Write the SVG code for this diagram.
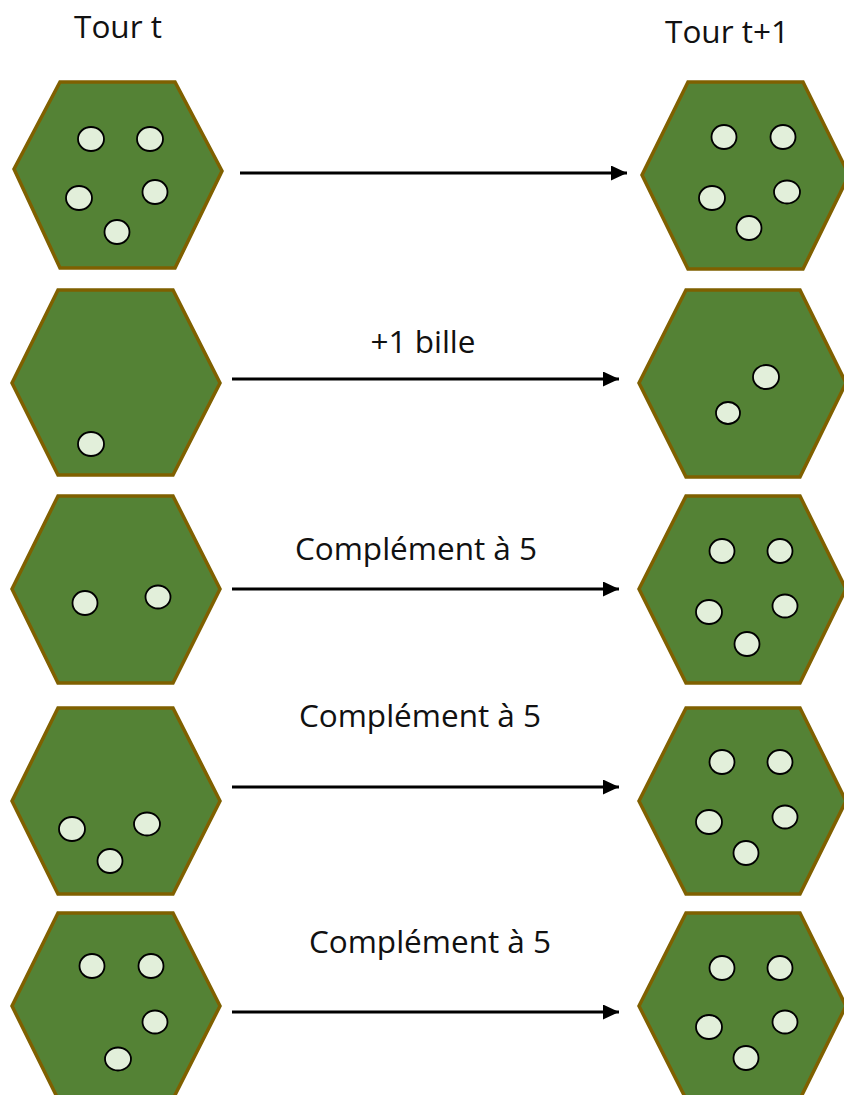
<svg xmlns="http://www.w3.org/2000/svg" width="844" height="1095" viewBox="0 0 844 1095">
<style>
.hex{fill:#548235;stroke:#7F6000;stroke-width:3.5;stroke-linejoin:miter}
.ball{fill:#E2EFDA;stroke:#000;stroke-width:1.8}
.lbl{font-family:"Open Sans","Liberation Sans",sans-serif;font-size:31.5px;fill:#111;text-anchor:middle}
.arr{stroke:#000;stroke-width:3;fill:none;marker-end:url(#ah)}
</style>
<defs>
<marker id="ah" markerUnits="userSpaceOnUse" markerWidth="17" markerHeight="15" refX="16" refY="7.5" orient="auto">
<path d="M0,0 L16,7.5 L0,15 Z" fill="#000"/>
</marker>
</defs>
<rect width="844" height="1095" fill="#fff"/>
<g id="titles">
<text class="lbl" x="118" y="38">Tour t</text>
<text class="lbl" x="727" y="43">Tour t+1</text>
</g>
<g id="row1-left">
<polygon class="hex" points="60,82 175,82 222,171 175,268 60,268 14,169"/>
<ellipse class="ball" cx="91" cy="139" rx="13" ry="12"/>
<ellipse class="ball" cx="150" cy="139" rx="13" ry="12"/>
<ellipse class="ball" cx="79" cy="198" rx="13" ry="12"/>
<ellipse class="ball" cx="155" cy="192" rx="12.5" ry="12"/>
<ellipse class="ball" cx="117" cy="232" rx="12.5" ry="12"/>
</g>
<g id="row1-right">
<polygon class="hex" points="688,82 803,82 849,175 803,269 688,269 642,175"/>
<ellipse class="ball" cx="724" cy="137" rx="12.5" ry="12"/>
<ellipse class="ball" cx="783" cy="137" rx="12.5" ry="12"/>
<ellipse class="ball" cx="712" cy="198" rx="13" ry="12"/>
<ellipse class="ball" cx="787" cy="192" rx="13" ry="11.5"/>
<ellipse class="ball" cx="749" cy="228" rx="12.5" ry="12"/>
</g>
<g id="row2-left">
<polygon class="hex" points="58,290 173,290 220,383 173,475 58,475 12,383"/>
<ellipse class="ball" cx="91" cy="444" rx="13" ry="12"/>
</g>
<g id="row2-right">
<polygon class="hex" points="686,290 800,290 846,383 800,477 686,477 639,383"/>
<ellipse class="ball" cx="766" cy="377" rx="13" ry="12"/>
<ellipse class="ball" cx="728" cy="413" rx="12" ry="11"/>
</g>
<g id="row3-left">
<polygon class="hex" points="58,496 173,496 220,589 173,683 58,683 12,589"/>
<ellipse class="ball" cx="85" cy="603" rx="12.5" ry="12"/>
<ellipse class="ball" cx="158" cy="597" rx="12.5" ry="11.5"/>
</g>
<g id="row3-right">
<polygon class="hex" points="686,496 800,496 846,589 800,683 686,683 639,589"/>
<ellipse class="ball" cx="722" cy="551" rx="12.5" ry="12"/>
<ellipse class="ball" cx="780" cy="551" rx="12.5" ry="12"/>
<ellipse class="ball" cx="709" cy="612" rx="13" ry="12"/>
<ellipse class="ball" cx="785" cy="606" rx="12.5" ry="11.5"/>
<ellipse class="ball" cx="747" cy="644" rx="12.5" ry="12"/>
</g>
<g id="row4-left">
<polygon class="hex" points="58,708 173,708 220,801 173,894 58,894 12,801"/>
<ellipse class="ball" cx="72" cy="829" rx="13" ry="12"/>
<ellipse class="ball" cx="147" cy="824" rx="13" ry="11.5"/>
<ellipse class="ball" cx="110" cy="861" rx="12.5" ry="12"/>
</g>
<g id="row4-right">
<polygon class="hex" points="686,708 800,708 846,801 800,894 686,894 639,801"/>
<ellipse class="ball" cx="722" cy="762" rx="12.5" ry="12"/>
<ellipse class="ball" cx="780" cy="762" rx="12.5" ry="12"/>
<ellipse class="ball" cx="709" cy="822" rx="13" ry="12"/>
<ellipse class="ball" cx="785" cy="817" rx="12.5" ry="11.5"/>
<ellipse class="ball" cx="746" cy="853" rx="12.5" ry="12"/>
</g>
<g id="row5-left">
<polygon class="hex" points="58,913 173,913 220,1006 173,1099 58,1099 12,1006"/>
<ellipse class="ball" cx="92" cy="966" rx="12.5" ry="12"/>
<ellipse class="ball" cx="151" cy="966" rx="12.5" ry="12"/>
<ellipse class="ball" cx="155" cy="1022" rx="12.5" ry="11.5"/>
<ellipse class="ball" cx="118" cy="1059" rx="13" ry="11.5"/>
</g>
<g id="row5-right">
<polygon class="hex" points="686,913 800,913 846,1006 800,1099 686,1099 639,1006"/>
<ellipse class="ball" cx="722" cy="968" rx="12.5" ry="12"/>
<ellipse class="ball" cx="780" cy="968" rx="12.5" ry="12"/>
<ellipse class="ball" cx="709" cy="1027" rx="13" ry="12"/>
<ellipse class="ball" cx="785" cy="1022" rx="12.5" ry="11.5"/>
<ellipse class="ball" cx="746" cy="1058" rx="12.5" ry="12"/>
</g>
<g id="connectors">
<line class="arr" x1="240" y1="173" x2="627" y2="173"/>
<line class="arr" x1="232" y1="379" x2="619" y2="379"/>
<line class="arr" x1="232" y1="589" x2="619" y2="589"/>
<line class="arr" x1="232" y1="787" x2="619" y2="787"/>
<line class="arr" x1="232" y1="1012" x2="619" y2="1012"/>
</g>
<g id="labels">
<text class="lbl" x="423" y="353">+1 bille</text>
<text class="lbl" x="416" y="560">Complément à 5</text>
<text class="lbl" x="420" y="727">Complément à 5</text>
<text class="lbl" x="430" y="953">Complément à 5</text>
</g>
</svg>
